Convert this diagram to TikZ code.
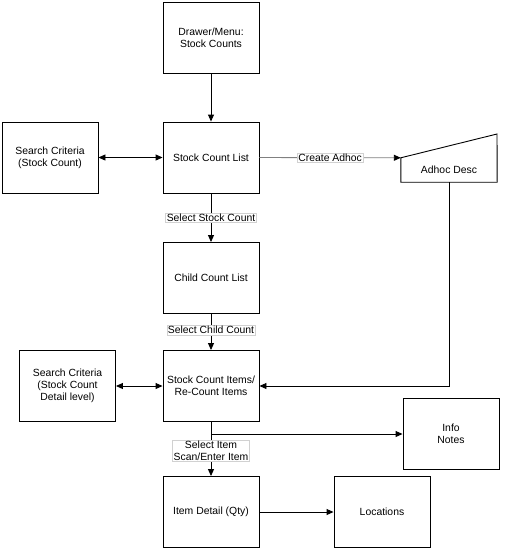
\documentclass[tikz,border=0pt]{standalone}
\usepackage{fontspec}
\setmainfont{Liberation Sans}
\usetikzlibrary{arrows.meta}
\begin{document}
\begin{tikzpicture}[x=1pt,y=-1pt,
  box/.style={draw=black,line width=0.9pt,rectangle,minimum width=96pt,minimum height=71pt,inner sep=0pt,align=center,font=\fontsize{10.4}{12}\selectfont},
  lbl/.style={draw=black!18,fill=white,line width=0.6pt,inner sep=1pt,align=center,font=\fontsize{10.4}{12}\selectfont},
  conn/.style={draw=black,line width=0.9pt,-{Triangle[length=7pt,width=6pt,color=black]}},
  both/.style={draw=black,line width=0.9pt,{Triangle[length=7pt,width=6pt]}-{Triangle[length=7pt,width=6pt]}}]
\useasboundingbox (0,0) rectangle (515,552);
\node[box] (drawer) at (211,37.5) {Drawer/Menu:\\Stock Counts};
\node[box] (scl) at (211,157.5) {Stock Count List};
\node[box] (sc1) at (50,157.5) {Search Criteria\\(Stock Count)};
\node[box] (child) at (211,278) {Child Count List};
\node[box] (items) at (211,386) {Stock Count Items/\\Re-Count Items};
\node[box] (sc2) at (67.5,386) {Search Criteria\\(Stock Count\\Detail level)};
\node[box] (info) at (451,434) {Info\\Notes};
\node[box] (detail) at (211,512) {Item Detail (Qty)};
\node[box] (loc) at (382,512) {Locations};
% Adhoc Desc manual input shape
\node[rectangle,minimum width=96pt,minimum height=24pt,inner sep=0pt,font=\fontsize{10.4}{12}\selectfont] (adhoc) at (449,170) {Adhoc Desc};
\coordinate (adtr) at (497,134);
\draw[line width=0.9pt] (adhoc.north west) -- (adtr) -- (adhoc.south east) -- (adhoc.south west) -- cycle;
% connectors
\draw[conn] (drawer.south) -- (scl.north);
\draw[both] (sc1.east) -- (scl.west);
\draw[conn,draw=black!50] (scl.east) -- node[lbl,pos=0.5] (lca) {Create Adhoc} (adhoc.north west);
\draw[conn] (scl.south) -- node[lbl,pos=0.5] (lss) {Select Stock Count} (child.north);
\draw[conn] (child.south) -- node[lbl,pos=0.45] (lsc) {Select Child Count} (items.north);
\draw[both] (sc2.east) -- (items.west);
\coordinate (adcorner) at (adhoc.south |- items.east);
\draw[conn] (adhoc.south) -- (adcorner) -- (items.east);
\coordinate (split) at (items.south |- info.west);
\draw[conn] (items.south) -- node[lbl,pos=0.53] (lsi) {Select Item\\Scan/Enter Item} (detail.north);
\draw[conn] (split) -- (info.west);
\draw[conn] (detail.east) -- (loc.west);
\end{tikzpicture}
\end{document}
